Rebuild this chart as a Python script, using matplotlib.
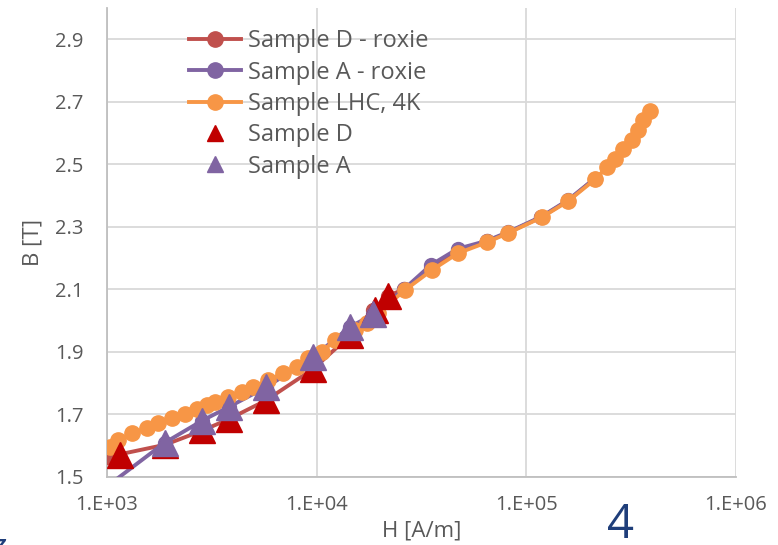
import matplotlib
matplotlib.use('Agg')
import matplotlib.pyplot as plt
from matplotlib.lines import Line2D

plt.rcParams['font.family'] = ['Open Sans', 'DejaVu Sans']

# Sample D - roxie (simulation)
d_roxie_h = [1000, 1890, 2840, 3810, 5730, 9600, 14400, 18600, 22000, 26000,
             35000, 47000, 65000, 82000, 118000, 158000, 212000]
d_roxie_b = [1.564, 1.603, 1.648, 1.685, 1.745, 1.845, 1.952, 2.035, 2.08, 2.10,
             2.17, 2.222, 2.254, 2.282, 2.332, 2.384, 2.455]

# Sample A - roxie (simulation)
a_roxie_h = [1000, 1890, 2840, 3810, 5730, 9600, 14400, 18600, 26000,
             35000, 47000, 65000, 82000, 118000, 158000, 212000]
a_roxie_b = [1.47, 1.61, 1.68, 1.724, 1.787, 1.883, 1.98, 2.02, 2.10,
             2.178, 2.23, 2.256, 2.284, 2.333, 2.386, 2.455]

# Sample LHC, 4K
lhc_h = [1034, 1128, 1316, 1551, 1750, 2042, 2355, 2687, 2998, 3274, 3776, 4404,
         4969, 5856, 6907, 8054, 9092, 10600, 12220, 15230, 17390, 19600, 26370,
         35450, 47210, 64890, 81660, 118600, 157800, 212400, 242300, 264800,
         289000, 319000, 340700, 359700, 388300]
lhc_b = [1.596, 1.618, 1.640, 1.657, 1.672, 1.689, 1.701, 1.717, 1.730, 1.740,
         1.756, 1.772, 1.788, 1.810, 1.832, 1.852, 1.880, 1.900, 1.938, 1.970,
         1.992, 2.024, 2.098, 2.162, 2.216, 2.251, 2.280, 2.331, 2.382, 2.452,
         2.491, 2.519, 2.551, 2.577, 2.609, 2.641, 2.670]

# measured samples
d_h = [1153, 1890, 2840, 3810, 5730, 9600, 14400, 18900, 22000]
d_b = [1.570, 1.603, 1.650, 1.685, 1.746, 1.845, 1.954, 2.035, 2.080]
a_h = [1890, 2840, 3810, 5730, 9600, 14400, 18600]
a_b = [1.610, 1.680, 1.724, 1.787, 1.883, 1.980, 2.020]

red = '#C0504D'
purple = '#8064A2'
orange = '#F79646'
dark_red = '#C00000'
grey_txt = '#595959'

fig = plt.figure(figsize=(7.78, 5.45), dpi=100)
ax = fig.add_axes([0.1375, 0.1248, 0.8085, 0.8602])

ax.plot(d_roxie_h, d_roxie_b, '-o', color=red, lw=2.8, ms=10, zorder=3)
ax.plot(a_roxie_h, a_roxie_b, '-o', color=purple, lw=2.8, ms=10, zorder=4)
ax.plot(lhc_h, lhc_b, '-o', color=orange, lw=2.8, ms=11, zorder=5)
ax.plot(d_h, d_b, '^', color=dark_red, ms=19, mec=dark_red, ls='none', zorder=6)
ax.plot(a_h, a_b, '^', color=purple, ms=19, mec=purple, ls='none', zorder=7)

ax.set_xscale('log')
ax.set_xlim(1e3, 1e6)
ax.set_ylim(1.5, 3.0)
ax.set_xticks([1e3, 1e4, 1e5, 1e6])
ax.set_xticklabels(['1.E+03', '1.E+04', '1.E+05', '1.E+06'])
ax.set_xticks([], minor=True)
ax.set_yticks([1.5, 1.7, 1.9, 2.1, 2.3, 2.5, 2.7, 2.9])
ax.set_yticklabels(['1.5', '1.7', '1.9', '2.1', '2.3', '2.5', '2.7', '2.9'])
ax.grid(True, color='#D9D9D9', lw=1.3)
ax.set_axisbelow(True)
ax.tick_params(length=0, labelsize=14.5, colors=grey_txt)
ax.tick_params(axis='y', pad=17)
ax.tick_params(axis='x', pad=13)
for s in ['top', 'right']:
    ax.spines[s].set_visible(False)
for s in ['left', 'bottom']:
    ax.spines[s].set_color('#BFBFBF')
    ax.spines[s].set_linewidth(1.3)

ax.set_xlabel('H [A/m]', fontsize=16, color=grey_txt, labelpad=4)
ax.set_ylabel('B [T]', fontsize=16, color=grey_txt, labelpad=8)

handles = [
    Line2D([], [], color=red, lw=2.8, marker='o', ms=11),
    Line2D([], [], color=purple, lw=2.8, marker='o', ms=11),
    Line2D([], [], color=orange, lw=2.8, marker='o', ms=11),
    Line2D([], [], color=dark_red, marker='^', ms=11, ls='none'),
    Line2D([], [], color=purple, marker='^', ms=11, ls='none'),
]
labels = ['Sample D - roxie', 'Sample A - roxie', 'Sample LHC, 4K', 'Sample D', 'Sample A']
leg = ax.legend(handles, labels, loc='upper left', bbox_to_anchor=(0.13, 0.955),
                frameon=False, fontsize=17, handlelength=2.2, handletextpad=0.3,
                labelspacing=0.31, borderaxespad=0, borderpad=0)
for t in leg.get_texts():
    t.set_color(grey_txt)

fig.text(0.797, 0.012, '4', fontsize=34, color='#1F3E7A', ha='center', va='baseline')
fig.text(-0.004, 0.0, 'z', fontsize=14, color='#1F3E7A', ha='left', va='center',
         fontweight='bold', style='italic')

fig.savefig('out.png', dpi=100)
